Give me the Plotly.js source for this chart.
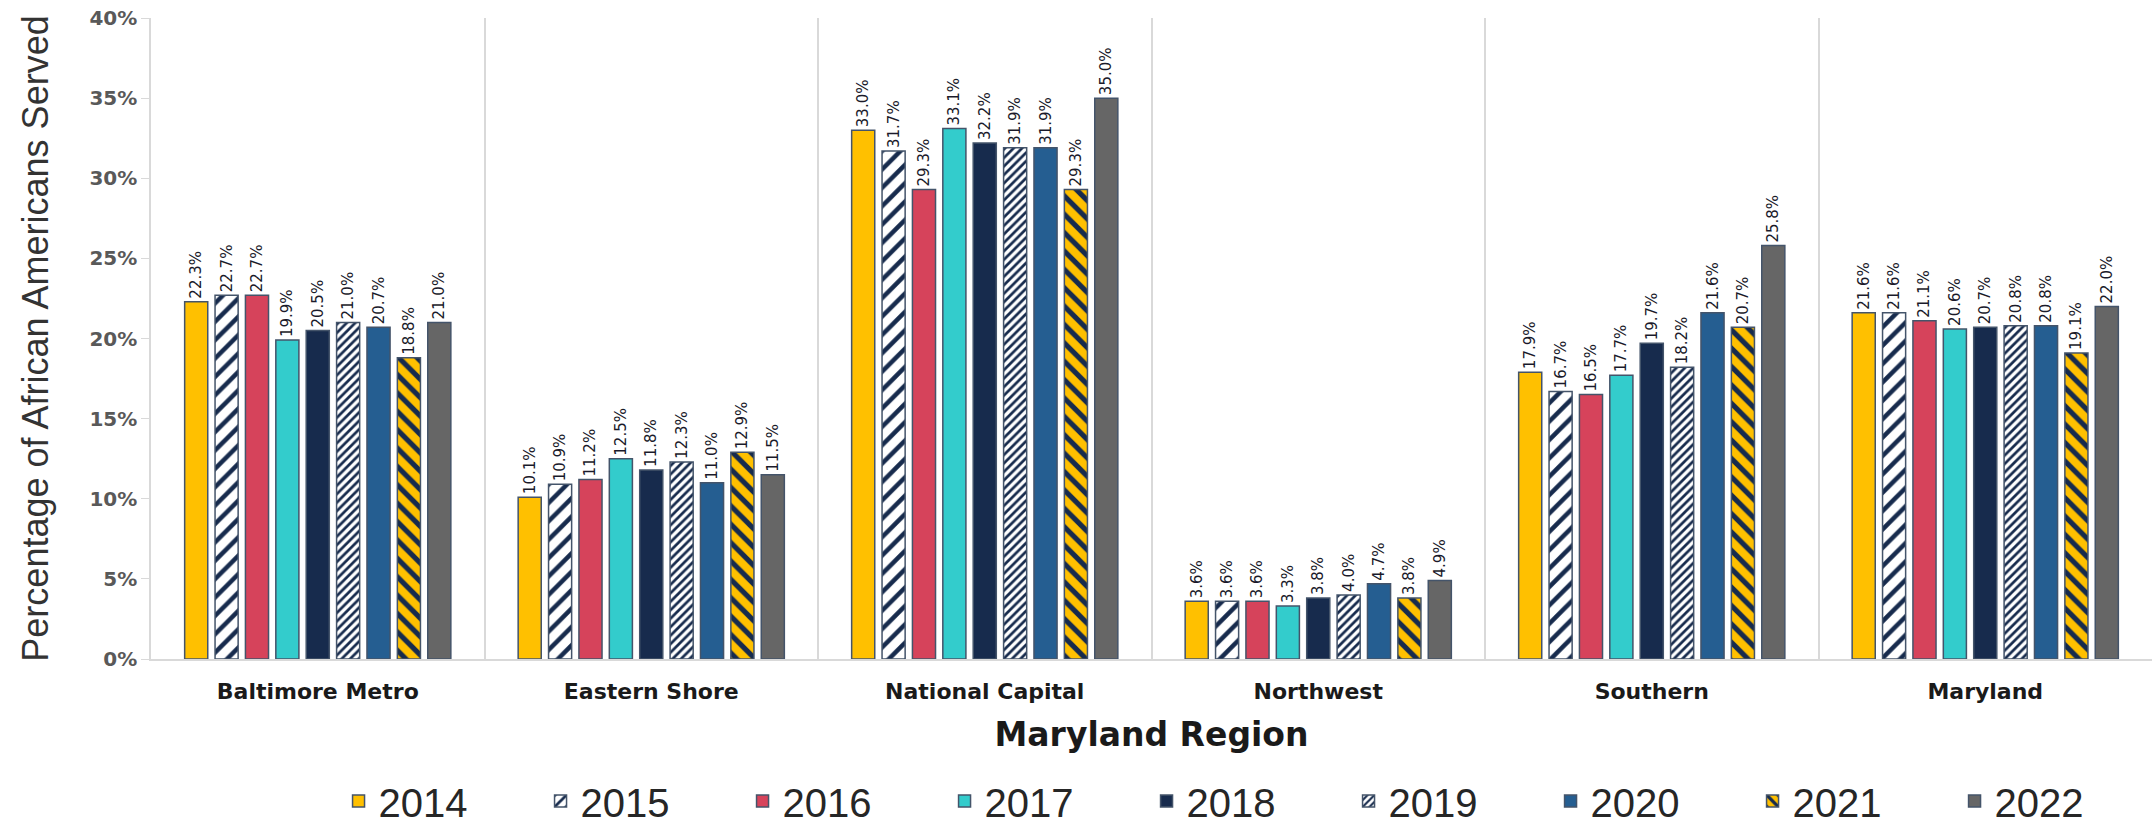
<!DOCTYPE html>
<html>
<head>
<meta charset="utf-8">
<script src="https://cdn.plot.ly/plotly-3.0.1.min.js"></script>
<style>
  html, body { margin: 0; padding: 0; background: #fff; }
  #chart { width: 2154px; height: 825px; }
</style>
</head>
<body>
<div id="chart"></div>
<script>
var regions = ['Baltimore Metro', 'Eastern Shore', 'National Capital', 'Northwest', 'Southern', 'Maryland'];
var years = ['2014', '2015', '2016', '2017', '2018', '2019', '2020', '2021', '2022'];

// percentage of African Americans served, one array per year (region order as above)
var y2014 = [22.3, 10.1, 33.0, 3.6, 17.9, 21.6];
var y2015 = [22.7, 10.9, 31.7, 3.6, 16.7, 21.6];
var y2016 = [22.7, 11.2, 29.3, 3.6, 16.5, 21.1];
var y2017 = [19.9, 12.5, 33.1, 3.3, 17.7, 20.6];
var y2018 = [20.5, 11.8, 32.2, 3.8, 19.7, 20.7];
var y2019 = [21.0, 12.3, 31.9, 4.0, 18.2, 20.8];
var y2020 = [20.7, 11.0, 31.9, 4.7, 21.6, 20.8];
var y2021 = [18.8, 12.9, 29.3, 3.8, 20.7, 19.1];
var y2022 = [21.0, 11.5, 35.0, 4.9, 25.8, 22.0];

var values = [y2014, y2015, y2016, y2017, y2018, y2019, y2020, y2021, y2022];

var navy = '#172b4d';
var styles = [
  {color: '#ffc000'},
  {color: '#ffffff', pattern: {shape: '/', fgcolor: navy, bgcolor: '#ffffff', size: 13, solidity: 0.35}},
  {color: '#d6435b'},
  {color: '#33cccc'},
  {color: navy},
  {color: '#ffffff', pattern: {shape: '/', fgcolor: navy, bgcolor: '#ffffff', size: 6, solidity: 0.45}},
  {color: '#255e91'},
  {color: '#ffc000', pattern: {shape: '\\', fgcolor: navy, bgcolor: '#ffc000', size: 13, solidity: 0.4}},
  {color: '#666666'}
];

var data = years.map(function(yr, i) {
  var m = {color: styles[i].color, line: {color: '#44546a', width: 1.5}};
  if (styles[i].pattern) m.pattern = styles[i].pattern;
  return {
    type: 'bar',
    name: yr,
    x: regions,
    y: values[i].map(function(v) { return v / 100; }),
    text: values[i].map(function(v) { return v.toFixed(1) + '%'; }),
    textposition: 'outside',
    textangle: -90,
    constraintext: 'none',
    cliponaxis: false,
    textfont: {family: 'DejaVu Sans', size: 15, color: '#1a1a2a'},
    marker: m,
    hoverinfo: 'x+y+name'
  };
});

var layout = {
  width: 2154,
  height: 825,
  margin: {l: 151, r: 2, t: 18, b: 166, autoexpand: false},
  paper_bgcolor: '#ffffff',
  plot_bgcolor: '#ffffff',
  barmode: 'group',
  bargap: 0.18,
  bargroupgap: 0.24,
  showlegend: true,
  legend: {
    orientation: 'h',
    x: 0.548, xanchor: 'center',
    y: -0.2215, yanchor: 'middle',
    entrywidth: 157,
    itemwidth: 30,
    font: {family: 'Liberation Sans, sans-serif', size: 40, color: '#262626'}
  },
  xaxis: {
    type: 'category',
    automargin: false,
    tickson: 'boundaries',
    showgrid: true,
    gridcolor: '#d9d9d9',
    gridwidth: 1.5,
    showline: true,
    linecolor: '#d9d9d9',
    linewidth: 1.5,
    ticks: '',
    ticklabelstandoff: 12,
    tickfont: {family: 'DejaVu Sans', size: 22, color: '#1a1a1a', weight: 'bold'},
    title: {
      text: 'Maryland Region',
      font: {family: 'DejaVu Sans', size: 33, color: '#1a1a1a', weight: 'bold'},
      standoff: 20
    }
  },
  yaxis: {
    automargin: false,
    range: [0, 0.4],
    dtick: 0.05,
    tickformat: '.0%',
    showgrid: false,
    zeroline: false,
    showline: true,
    linecolor: '#d9d9d9',
    linewidth: 1.5,
    ticks: 'outside',
    ticklen: 8,
    tickcolor: '#d9d9d9',
    tickfont: {family: 'DejaVu Sans', size: 20, color: '#595959', weight: 'bold'},
    title: {
      text: 'Percentage of African Americans Served',
      font: {family: 'Liberation Sans, sans-serif', size: 36, color: '#333333'},
      standoff: 30
    }
  }
};

Plotly.newPlot('chart', data, layout, {displayModeBar: false, displaylogo: false});
</script>
</body>
</html>
